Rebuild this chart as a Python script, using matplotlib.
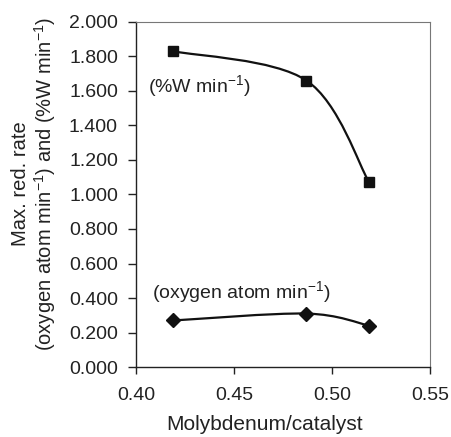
import numpy as np
import matplotlib.pyplot as plt
from matplotlib.path import Path
from matplotlib.patches import PathPatch
from matplotlib.ticker import FormatStrFormatter

plt.rcParams['font.family'] = ['Liberation Sans', 'DejaVu Sans']
plt.rcParams['font.size'] = 14
plt.rcParams['mathtext.fontset'] = 'custom'
plt.rcParams['mathtext.rm'] = 'Liberation Sans'

mo = [0.419, 0.487, 0.519]
rate_w = [1.83, 1.66, 1.07]
rate_o = [0.27, 0.31, 0.24]


def smooth_path(x, y, t=1 / 6):
    # excel-like smoothed line through the points (catmull-rom as bezier)
    x = np.asarray(x, float)
    y = np.asarray(y, float)
    verts = [(x[0], y[0])]
    codes = [Path.MOVETO]
    n = len(x)
    for i in range(n - 1):
        p0 = np.array([x[max(i - 1, 0)], y[max(i - 1, 0)]])
        p1 = np.array([x[i], y[i]])
        p2 = np.array([x[i + 1], y[i + 1]])
        p3 = np.array([x[min(i + 2, n - 1)], y[min(i + 2, n - 1)]])
        c1 = p1 + (p2 - p0) * t
        c2 = p2 - (p3 - p1) * t
        verts += [tuple(c1), tuple(c2), tuple(p2)]
        codes += [Path.CURVE4] * 3
    return Path(verts, codes)


fig = plt.figure(figsize=(4.52, 4.37), dpi=100)
ax = fig.add_axes([0.301, 0.160, 0.650, 0.790])

for ys, mk, ms in [(rate_w, 's', 7.5), (rate_o, 'D', 7)]:
    ax.add_patch(PathPatch(smooth_path(mo, ys), facecolor='none',
                           edgecolor='#111111', lw=1.6))
    ax.plot(mo, ys, ls='none', marker=mk, ms=ms, color='#111111')

ax.text(0.406, 1.585, '(%W min$^{-1}$)', color='#222222')
ax.text(0.408, 0.395, '(oxygen atom min$^{-1}$)', color='#222222')

ax.set_xlim(0.40, 0.55)
ax.set_ylim(0, 2.0)
ax.set_xticks(np.arange(0.40, 0.551, 0.05))
ax.set_yticks(np.arange(0, 2.001, 0.2))
ax.xaxis.set_major_formatter(FormatStrFormatter('%.2f'))
ax.yaxis.set_major_formatter(FormatStrFormatter('%.3f'))
ax.tick_params(direction='out', width=1, colors='#222222', labelsize=14)
ax.tick_params(axis='y', length=6, pad=7)
ax.tick_params(axis='x', length=5, pad=9)

for s in ['top', 'right']:
    ax.spines[s].set_color('#777777')
    ax.spines[s].set_linewidth(0.8)
for s in ['left', 'bottom']:
    ax.spines[s].set_color('#222222')
    ax.spines[s].set_linewidth(1.0)

ax.set_xlabel('Molybdenum/catalyst', color='#222222', fontsize=15)
ax.xaxis.set_label_coords(0.439, -0.14)
ax.set_ylabel('Max. red. rate\n(oxygen atom min$^{-1}$) and (%W min$^{-1}$)',
              color='#222222', fontsize=14.5, linespacing=1.1)
ax.yaxis.set_label_coords(-0.266, 0.53)

fig.savefig('out.png', dpi=100)
